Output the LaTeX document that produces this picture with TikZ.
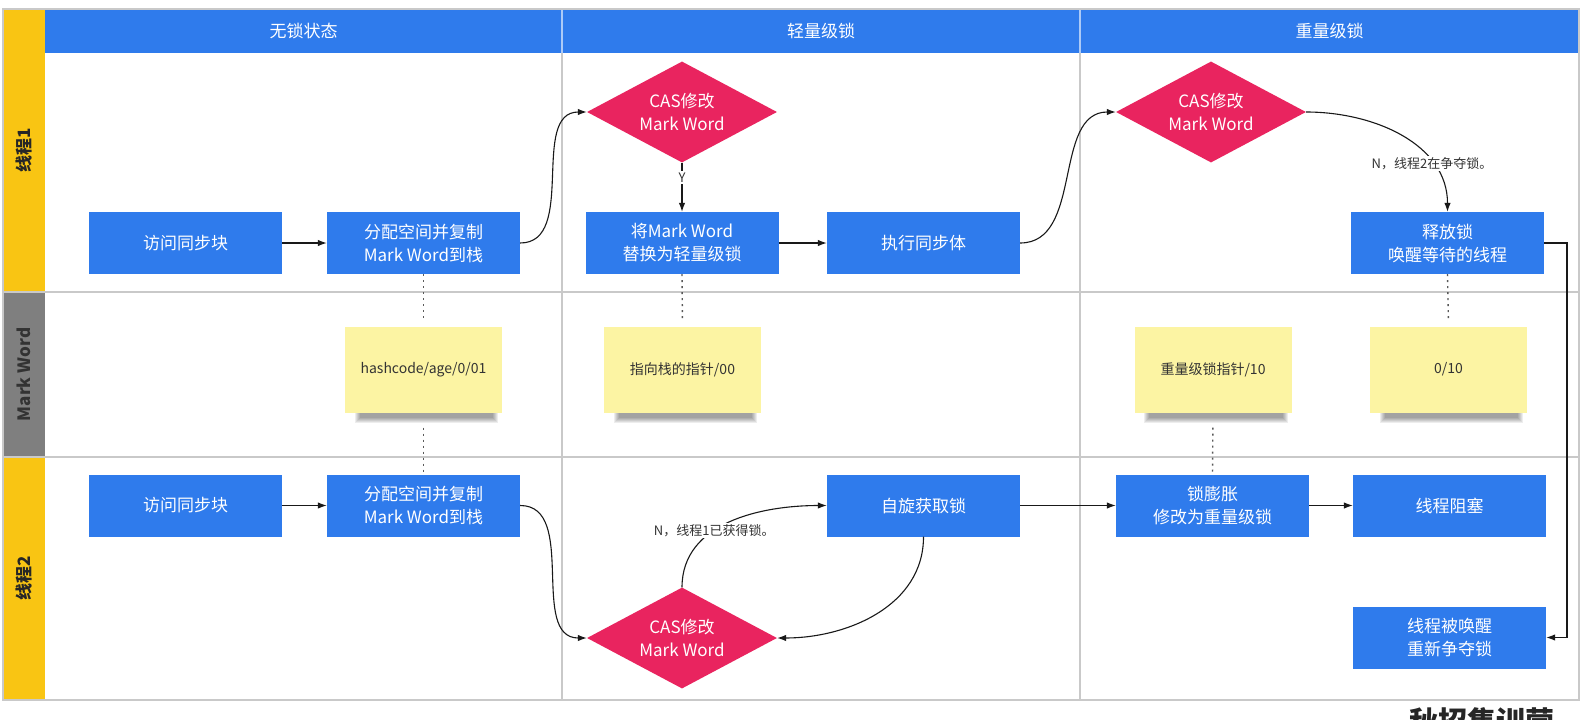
\documentclass[tikz,border=0pt]{standalone}
\usepackage{fontspec}
\setmainfont{Noto Sans CJK SC}
\usetikzlibrary{arrows.meta,shapes.geometric}

\definecolor{flowblue}{HTML}{2F7BEC}
\definecolor{caspink}{HTML}{E9245F}
\definecolor{laneyellow}{HTML}{F9C513}
\definecolor{lanegray}{HTML}{7F7F7F}
\definecolor{noteyellow}{HTML}{FCF4A3}
\definecolor{gridline}{HTML}{C9C9C9}
\definecolor{inktext}{HTML}{333333}

\pgfdeclarelayer{paper}
\pgfdeclarelayer{shade}
\pgfsetlayers{paper,shade,main}

\begin{document}
\begin{tikzpicture}[x=1pt,y=-1pt,
  stepbox/.style={rectangle, fill=flowblue, text=white, minimum width=193pt,
    minimum height=62pt, inner sep=0pt, align=center,
    font=\fontsize{17}{23}\selectfont},
  casdiamond/.style={diamond, fill=caspink, text=white, minimum width=190pt,
    minimum height=101pt, inner sep=0pt, aspect=1.88, align=center,
    font=\fontsize{17}{23}\selectfont},
  note/.style={rectangle, fill=noteyellow, minimum width=157pt, minimum height=86pt,
    inner sep=0pt, text=inktext, font=\fontsize{14}{17}\selectfont},
  flow/.style={draw=black!90, line width=1.1pt, -{Latex[length=9pt,width=6.5pt]}},
  link/.style={draw=black!65, line width=1.4pt, dash pattern=on 2pt off 4pt},
  lbl/.style={fill=white, inner sep=1.5pt, text=inktext, font=\fontsize{13}{15}\selectfont},
  lanehead/.style={rotate=90, font=\fontsize{17}{19}\selectfont\bfseries, text=black!85},
  colhead/.style={text=white, font=\fontsize{17}{20}\selectfont},
  grid/.style={draw=gridline, line width=1.3pt}
]
\useasboundingbox (0,0) rectangle (1582,720);
\begin{pgfonlayer}{paper}
  \fill[white] (0,0) rectangle (1582,720);
\end{pgfonlayer}

% swimlane frame
\fill[laneyellow] (3,9) rectangle (45,292);
\fill[lanegray] (3,292) rectangle (45,457);
\fill[laneyellow] (3,457) rectangle (45,700);
\fill[flowblue] (45,9) rectangle (1579,53);
\draw[white!60!flowblue, line width=1.2pt] (562,9) -- (562,53) (1080,9) -- (1080,53);
\draw[grid] (562,53) -- (562,700) (1080,53) -- (1080,700);
\draw[grid] (3,292) -- (1579,292) (3,457) -- (1579,457);
\draw[grid] (3,9) rectangle (1579,700);

% column and lane titles
\node[colhead] (hdA) at (303.5,31) {无锁状态};
\node[colhead] (hdB) at (821,31) {轻量级锁};
\node[colhead] (hdC) at (1329.5,31) {重量级锁};
\node[lanehead] (laneA) at (24,150.5) {线程1};
\node[lanehead, text=black!80] (laneB) at (24,374.5) {Mark Word};
\node[lanehead] (laneC) at (24,578.5) {线程2};

% thread 1
\node[stepbox] (r1a) at (185.5,243) {访问同步块};
\node[stepbox] (r1b) at (423.5,243) {分配空间并复制\\Mark Word到栈};
\node[casdiamond] (d1) at (682,112) {CAS修改\\Mark Word};
\node[stepbox] (r1c) at (682,243) {将Mark Word\\替换为轻量级锁};
\node[stepbox] (r1d) at (923.5,243) {执行同步体};
\node[casdiamond] (d2) at (1211,112) {CAS修改\\Mark Word};
\node[stepbox] (r1e) at (1447.5,243) {释放锁\\唤醒等待的线程};

% mark word states
\node[note] (s1) at (423.5,369.5) {hashcode/age/0/01};
\node[note] (s2) at (682.5,369.5) {指向栈的指针/00};
\node[note] (s3) at (1213,369.5) {重量级锁指针/10};
\node[note] (s4) at (1448.5,369.5) {0/10};

\begin{pgfonlayer}{shade}
  \foreach \s in {s1,s2,s3,s4}{
    \foreach \k in {0,...,5}{
      \fill[black, opacity=0.07]
        ([xshift=10pt+\k pt, yshift=2pt]\s.south west) rectangle
        ([xshift=-4pt-\k pt, yshift=-10pt+\k pt]\s.south east);
    }
  }
\end{pgfonlayer}

% thread 2
\node[stepbox] (r3a) at (185.5,505.5) {访问同步块};
\node[stepbox] (r3b) at (423.5,505.5) {分配空间并复制\\Mark Word到栈};
\node[casdiamond] (d3) at (682,638) {CAS修改\\Mark Word};
\node[stepbox] (r3c) at (923.5,505.5) {自旋获取锁};
\node[stepbox] (r3g) at (1212.5,505.5) {锁膨胀\\修改为重量级锁};
\node[stepbox] (r3h) at (1449.5,505.5) {线程阻塞};
\node[stepbox] (r3f) at (1449.5,637.5) {线程被唤醒\\重新争夺锁};

\coordinate (wake) at (1567,243);

% dotted links to mark word states
\draw[link, shorten >=7pt] (r1b.south) -- (s1.north);
\draw[link, shorten <=15pt] (s1.south) -- (r3b.north);
\draw[link, shorten >=7pt] (r1c.south) -- (s2.north);
\draw[link, shorten <=15pt] (s3.south) -- (r3g.north);
\draw[link, shorten >=7pt] (r1e.south) -- (s4.north);

% thread 1 flow
\draw[flow] (r1a) -- (r1b);
\draw[flow] (r1b.east) to[out=0,in=180] (d1.west);
\draw[flow] (d1.south) -- node[lbl, pos=0.3] {Y} (r1c.north);
\draw[flow] (r1c) -- (r1d);
\draw[flow] (r1d.east) to[out=0,in=180] (d2.west);
\draw[flow] (d2.east) to[out=0,in=90] node[lbl, pos=0.72] {N，线程2在争夺锁。} (r1e.north);
\draw[flow] (r1e.east) -- (wake) |- (r3f.east);

% thread 2 flow
\draw[flow] (r3a) -- (r3b);
\draw[flow] (r3b.east) to[out=0,in=180] (d3.west);
\draw[flow] (d3.north) to[out=90,in=180] node[lbl, pos=0.4] {N，线程1已获得锁。} (r3c.west);
\draw[flow] (r3c.south) to[out=-90,in=0] (d3.east);
\draw[flow] (r3c) -- (r3g);
\draw[flow] (r3g) -- (r3h);

% caption at the lower edge
\node[anchor=north, inner sep=0pt, text=black!85, font=\fontsize{29}{30}\selectfont\bfseries] (brand) at (1482,707) {秋招集训营};
\end{tikzpicture}
\end{document}
